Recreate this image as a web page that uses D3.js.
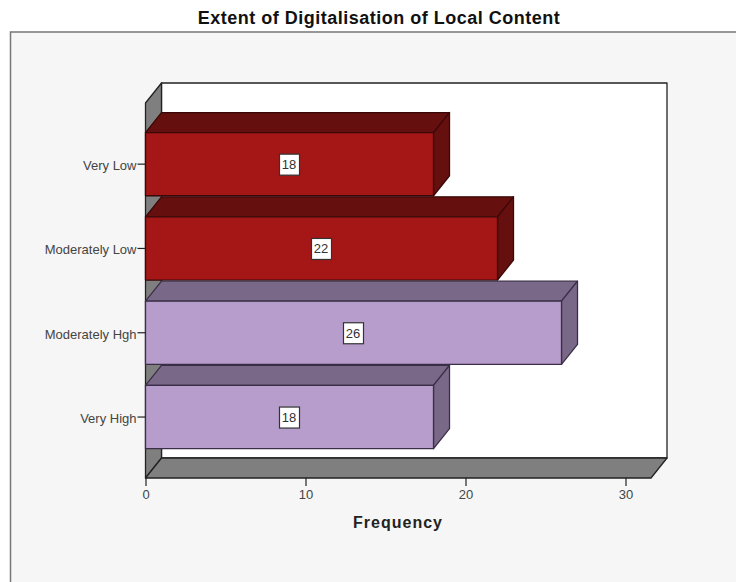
<!DOCTYPE html>
<html>
<head>
<meta charset="utf-8">
<style>
html,body{margin:0;padding:0;background:#fff;}
svg{display:block;}
text{font-family:"Liberation Sans",Arial,sans-serif;}
</style>
<script src="https://cdn.jsdelivr.net/npm/d3@7"></script>
</head>
<body>
<script>
const categories = ["Very Low","Moderately Low","Moderately Hgh","Very High"];
const frequencies = [18,22,26,18];
const xTickValues = [0,10,20,30];
const chartTitle = "Extent of Digitalisation of Local Content";
const xAxisTitle = "Frequency";
const frontColors = ["#a51616","#a51616","#b79dcc","#b79dcc"];
const topColors = ["#660f0f","#660f0f","#7a6889","#7a6889"];
const sideColors = ["#660f0f","#660f0f","#7a6889","#7a6889"];
const edgeColors = ["#3a0808","#3a0808","#3b2f47","#3b2f47"];

const W = 736, H = 582;
const dx = 16, dy = -20;
const frontBottom = 478, frontTop = 103;
const x = d3.scaleLinear().domain([0,30]).range([145.5,625.5]);
const xEnd = 651;
const y = d3.scaleBand().domain(categories).range([122,459.2]).paddingInner(0.25).paddingOuter(0.125);

const svg = d3.select("body").append("svg").attr("width",W).attr("height",H);

svg.append("rect").attr("x",10.5).attr("y",32).attr("width",W).attr("height",H)
  .attr("fill","#f6f6f6").attr("stroke","#777").attr("stroke-width",1.5);

svg.append("text").attr("x",379).attr("y",24).attr("text-anchor","middle")
  .attr("font-size",18).attr("font-weight","bold").attr("letter-spacing",0.5).attr("fill","#111").text(chartTitle);

const poly = (pts,fill,stroke,sw=1.3)=>svg.append("path")
  .attr("d","M"+pts.map(p=>p.join(",")).join("L")+"Z")
  .attr("fill",fill).attr("stroke",stroke).attr("stroke-width",sw).attr("stroke-linejoin","round");

const x0 = x(0);
// back wall
poly([[x0+dx,frontTop+dy],[xEnd+dx,frontTop+dy],[xEnd+dx,frontBottom+dy],[x0+dx,frontBottom+dy]],"#ffffff","#222");
// left wall
poly([[x0,frontTop],[x0+dx,frontTop+dy],[x0+dx,frontBottom+dy],[x0,frontBottom]],"#7f7f7f","#222");
// floor
poly([[x0,frontBottom],[xEnd,frontBottom],[xEnd+dx,frontBottom+dy],[x0+dx,frontBottom+dy]],"#7f7f7f","#222");

// bars, drawn back to front from the top down
categories.forEach((c,i)=>{
  const v = frequencies[i], t = y(c), b = t + y.bandwidth(), r = x(v);
  const e = edgeColors[i];
  poly([[x0,t],[r,t],[r+dx,t+dy],[x0+dx,t+dy]],topColors[i],e);
  poly([[r,t],[r+dx,t+dy],[r+dx,b+dy],[r,b]],sideColors[i],e);
  poly([[x0,t],[r,t],[r,b],[x0,b]],frontColors[i],e);
});

// value labels
categories.forEach((c,i)=>{
  const v = frequencies[i], cx = x(v/2), cy = y(c)+y.bandwidth()/2;
  svg.append("rect").attr("x",cx-10).attr("y",cy-10).attr("width",20).attr("height",21)
    .attr("fill","#fff").attr("stroke","#333").attr("stroke-width",1.2);
  svg.append("text").attr("x",cx-0.5).attr("y",cy+5).attr("text-anchor","middle")
    .attr("font-size",13).attr("fill","#333").text(v);
});

// axes
const xAxis = d3.axisBottom(x).tickValues(xTickValues).tickSize(8).tickSizeOuter(0);
const gx = svg.append("g").attr("transform",`translate(0,${frontBottom})`).call(xAxis);
gx.select(".domain").remove();
gx.selectAll("line").attr("stroke","#222").attr("stroke-width",1.2);
gx.selectAll("text").attr("font-size",13).attr("fill","#444").attr("font-family",'"Liberation Sans",Arial,sans-serif').attr("dy",0).attr("y",21);

const yAxis = d3.axisLeft(y).tickSize(8).tickSizeOuter(0).tickPadding(1);
const gy = svg.append("g").attr("transform",`translate(${x0},0)`).call(yAxis);
gy.select(".domain").remove();
gy.selectAll("line").attr("stroke","#222").attr("stroke-width",1.2);
gy.selectAll("text").attr("font-size",13).attr("fill","#444").attr("dy","0.45em").attr("font-family",'"Liberation Sans",Arial,sans-serif');

svg.append("text").attr("x",398).attr("y",528).attr("text-anchor","middle")
  .attr("font-size",16).attr("font-weight","bold").attr("letter-spacing",1).attr("fill","#222").text(xAxisTitle);
</script>
</body>
</html>
